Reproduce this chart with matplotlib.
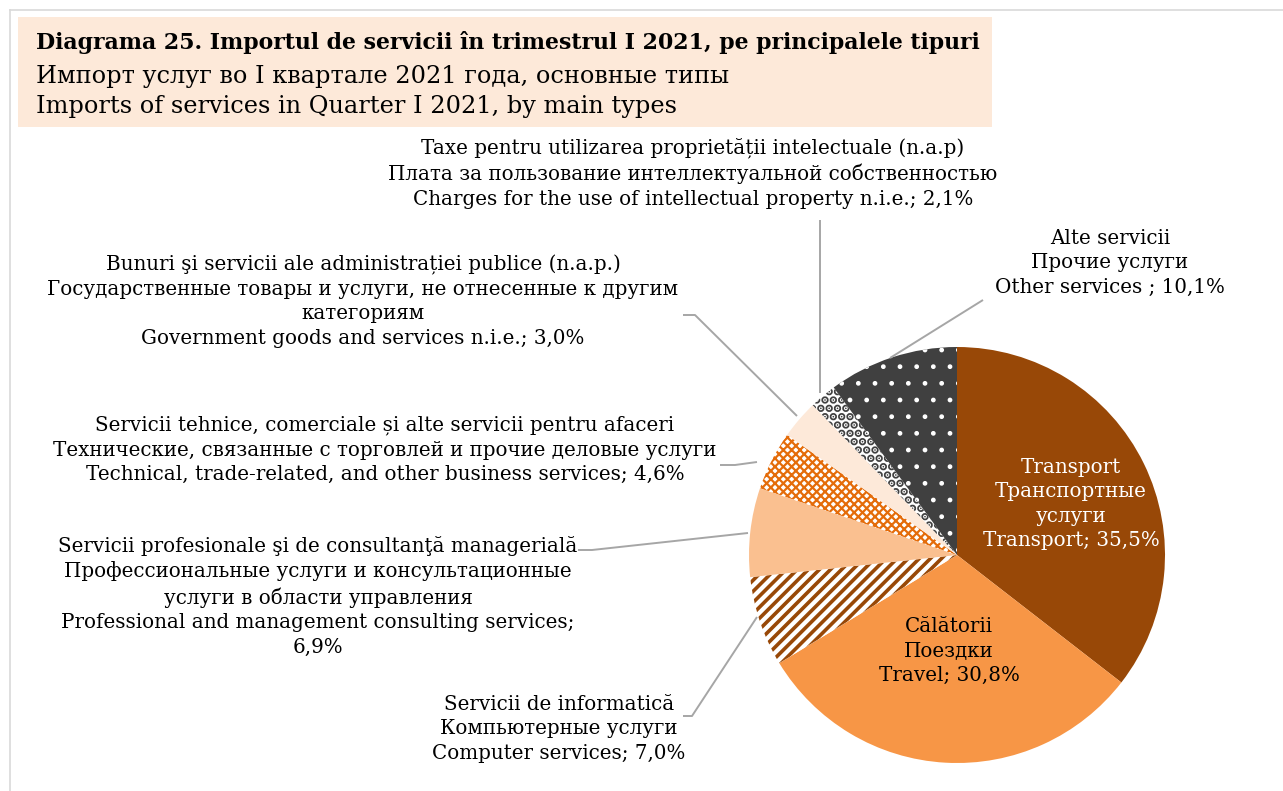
import matplotlib
matplotlib.use("Agg")
import matplotlib.pyplot as plt
from matplotlib.patches import Rectangle
from matplotlib.lines import Line2D

# ---------------- data ----------------
labels = [
    "Transport\nТранспортные\nуслуги\nTransport; 35,5%",
    "Călătorii\nПоездки\nTravel; 30,8%",
    "Servicii de informatică\nКомпьютерные услуги\nComputer services; 7,0%",
    "Servicii profesionale şi de consultanţă managerială\nПрофессиональные услуги и консультационные\nуслуги в области управления\nProfessional and management consulting services;\n6,9%",
    "Servicii tehnice, comerciale și alte servicii pentru afaceri\nТехнические, связанные с торговлей и прочие деловые услуги\nTechnical, trade-related, and other business services; 4,6%",
    "Bunuri şi servicii ale administrației publice (n.a.p.)\nГосударственные товары и услуги, не отнесенные к другим\nкатегориям\nGovernment goods and services n.i.e.; 3,0%",
    "Taxe pentru utilizarea proprietății intelectuale (n.a.p)\nПлата за пользование интеллектуальной собственностью\nCharges for the use of intellectual property n.i.e.; 2,1%",
    "Alte servicii\nПрочие услуги\nOther services ; 10,1%",
]
values = [35.5, 30.8, 7.0, 6.9, 4.6, 3.0, 2.1, 10.1]

title_lines = [
    "Diagrama 25. Importul de servicii în trimestrul I 2021, pe principalele tipuri",
    "Импорт услуг во I квартале 2021 года, основные типы",
    "Imports of services in Quarter I 2021, by main types",
]

# ---------------- figure ----------------
W, H = 1283, 791
fig = plt.figure(figsize=(W / 100, H / 100), dpi=100)
ax = fig.add_axes([0, 0, 1, 1])
renderer = fig.canvas.get_renderer()

def P(x, y):
    return (x, H - y)

def fit_size(text, family, weight, target_px, start=12.0):
    t = fig.text(0, 0, text, fontsize=start, family=family, fontweight=weight)
    w = t.get_window_extent(renderer).width
    t.remove()
    return start * target_px / w

serif = "DejaVu Serif"

# outer frame
ax.add_line(Line2D([10, 10], [0, H - 10], color="#D9D9D9", lw=1.2))
ax.add_line(Line2D([10, W], [H - 10, H - 10], color="#D9D9D9", lw=1.2))

# title box
ax.add_patch(Rectangle(P(18, 127), 992 - 18, 110, facecolor="#FDE9D9", edgecolor="none"))
ts_bold = fit_size(title_lines[0], serif, "bold", 946)
ts_reg = fit_size(title_lines[2], serif, "normal", 636)
ax.text(*P(36, 43), title_lines[0], fontsize=ts_bold, fontweight="bold",
        family=serif, va="center", ha="left", color="black")
ax.text(*P(36, 76), title_lines[1], fontsize=ts_reg, family=serif,
        va="center", ha="left", color="black")
ax.text(*P(36, 107), title_lines[2], fontsize=ts_reg, family=serif,
        va="center", ha="left", color="black")

# pie
cx, cy, R = 957, 555, 208
wedges, _ = ax.pie(values, startangle=90, counterclock=False, center=P(cx, cy),
                   radius=R, frame=True)
ax.set_xlim(0, W)
ax.set_ylim(0, H)
ax.set_aspect("equal")
ax.axis("off")

styles = [
    dict(fc="#984807"),
    dict(fc="#F79646"),
    dict(fc="white", hatch="///", hc="#984807", hlw=2.6),
    dict(fc="#FAC090"),
    dict(fc="white", hatch="xxxx", hc="#E46C0A", hlw=1.6),
    dict(fc="#FDE9D9"),
    dict(fc="white", hatch="..", hc="#404040", hlw=4.0),
    dict(fc="#404040", hatch=".", hc="white", hlw=1.0),
]

def with_hatch_lw(artist, lw):
    orig = artist.draw
    def draw(renderer_):
        with plt.rc_context({"hatch.linewidth": lw}):
            orig(renderer_)
    artist.draw = draw

for w, s in zip(wedges, styles):
    w.set_facecolor(s["fc"])
    w.set_linewidth(0)
    if "hatch" in s:
        w.set_hatch(s["hatch"])
        w.set_edgecolor(s["hc"])
        if hasattr(w, "set_hatch_linewidth"):
            w.set_hatch_linewidth(s["hlw"])
        elif hasattr(w, "_hatch_linewidth"):
            w._hatch_linewidth = s["hlw"]
        with_hatch_lw(w, s["hlw"])
    else:
        w.set_edgecolor(s["fc"])

# labels (text centre positions in pixels)
fs = fit_size("Технические, связанные с торговлей и прочие деловые услуги", serif, "normal", 666)
label_pos = [(1071, 504), (949, 651), (559, 729), (318, 596), (385, 450),
             (363, 301), (693, 173), (1110, 263)]
label_col = ["white", "black", "black", "black", "black", "black", "black", "black"]
for lab, (x, y), c in zip(labels, label_pos, label_col):
    ax.text(*P(x, y), lab, ha="center", va="center", multialignment="center",
            fontsize=fs, family=serif, color=c, linespacing=1.36)

# leader lines
leader = dict(color="#A6A6A6", lw=1.4, solid_capstyle="butt")
leaders = [
    [(683, 716), (692, 716), (757, 617)],
    [(578, 550), (592, 550), (748, 533)],
    [(720, 465), (735, 465), (757, 462)],
    [(683, 315), (695, 315), (797, 416)],
    [(820, 220), (820, 393)],
    [(983, 300), (890, 358)],
]
for pts in leaders:
    xs = [p[0] for p in pts]
    ys = [H - p[1] for p in pts]
    ax.add_line(Line2D(xs, ys, **leader))

fig.savefig("out.png", dpi=100, facecolor="white")
